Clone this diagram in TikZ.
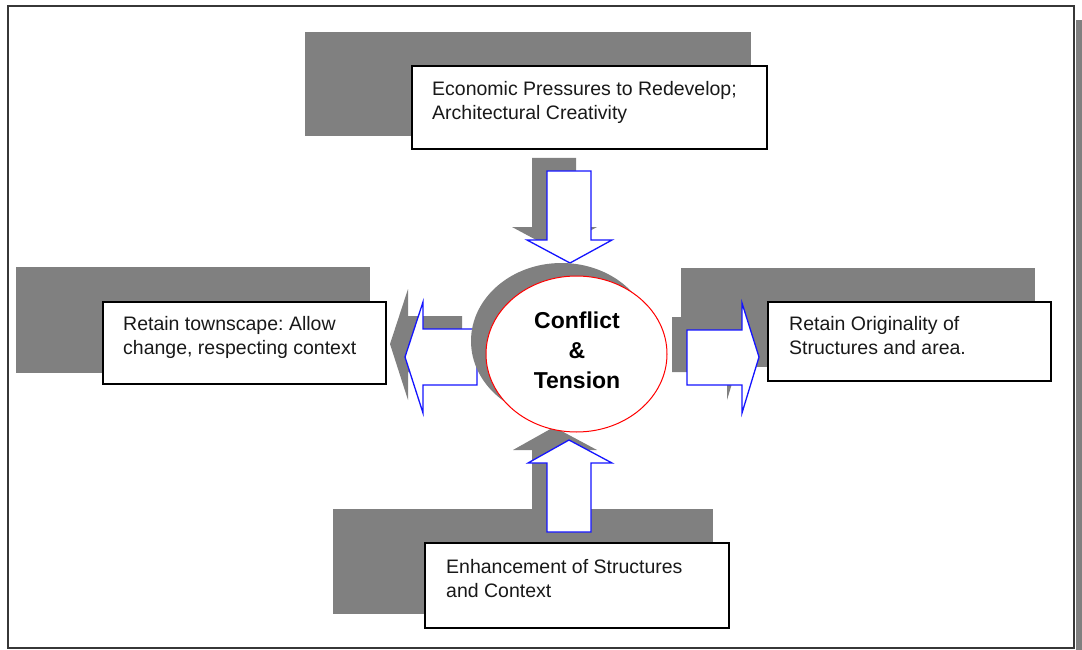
\documentclass[tikz,border=0pt]{standalone}
\usepackage{fontspec}
\setmainfont{Liberation Sans}
\usetikzlibrary{shapes.geometric}
\frenchspacing
\begin{document}
\begin{tikzpicture}[x=1pt,y=-1pt,
  textbox/.style={draw=black, line width=1.4pt, fill=white, inner sep=0pt},
  boxtext/.style={anchor=north west, align=left, inner sep=0pt, text=textdark,
    font=\fontsize{19.5}{24}\selectfont},
  blockarrow/.style={draw=arrowblue, line width=1.3pt, fill=white, line join=miter},
  shadowshift/.style={shift={(-15,-13)}}
]
\definecolor{shadegray}{RGB}{128,128,128}
\definecolor{arrowblue}{RGB}{20,20,255}
\definecolor{framegray}{RGB}{55,55,55}
\definecolor{textdark}{RGB}{25,25,25}
\useasboundingbox (0,0) rectangle (1082,650);

% page frame and its shadow strip
\fill[shadegray] (1076,20) rectangle (1082,650);
\draw[framegray, line width=2pt] (8,6) rectangle (1074,648);

% box shadows
\fill[shadegray] (305,32) rectangle (751,136);
\fill[shadegray] (16,267) rectangle (370,373);
\fill[shadegray] (681,268) rectangle (1035,367);
\fill[shadegray] (333,509) rectangle (713,614);

% block arrow outlines
\def\arrdown{(547,171) -- (591,171) -- (591,240) -- (612,240) -- (570,263) -- (527,240) -- (547,240) -- cycle}
\def\arrup{(547,532) -- (591,532) -- (591,463) -- (612,463) -- (569,440) -- (528,463) -- (547,463) -- cycle}
\def\arrleft{(477,329) -- (423,329) -- (423,302) -- (405,357) -- (423,413) -- (423,385) -- (477,385) -- cycle}
\def\arrright{(687,330) -- (742,330) -- (742,303) -- (759,357) -- (742,413) -- (742,385) -- (687,385) -- cycle}

% arrow shadows
\begin{scope}[shadowshift]
  \fill[shadegray] \arrdown;
  \fill[shadegray] \arrup;
  \fill[shadegray] \arrleft;
  \fill[shadegray] \arrright;
\end{scope}

% arrows
\draw[blockarrow] \arrdown;
\draw[blockarrow] \arrup;
\draw[blockarrow] \arrleft;
\draw[blockarrow] \arrright;

% central ellipse with its shadow
\fill[shadegray] (561.5,341) ellipse [x radius=90.5, y radius=78];
\node[draw=red, line width=1pt, fill=white, ellipse, minimum width=181pt, minimum height=156pt, inner sep=0pt] (core) at (576.5,354) {};
\node[align=center, font=\fontsize{23}{30}\selectfont\bfseries, text=black] (coretext) at (577,350) {Conflict\\\&\\Tension};

% text boxes
\node[textbox, minimum width=355pt, minimum height=83pt] (econ) at (589.5,107.5) {};
\node[boxtext] (econtext) at (432,81) {Economic Pressures to Redevelop;\\Architectural Creativity};

\node[textbox, minimum width=283pt, minimum height=82pt] (retain) at (244.5,343) {};
\node[boxtext] (retaintext) at (123,316) {Retain townscape: Allow\\change, respecting context};

\node[textbox, minimum width=283pt, minimum height=79pt] (orig) at (909.5,341.5) {};
\node[boxtext] (origtext) at (789,316) {Retain Originality of\\Structures and area.};

\node[textbox, minimum width=304pt, minimum height=85pt] (enh) at (577,585.5) {};
\node[boxtext] (enhtext) at (446,559) {Enhancement of Structures\\and Context};
\end{tikzpicture}
\end{document}
